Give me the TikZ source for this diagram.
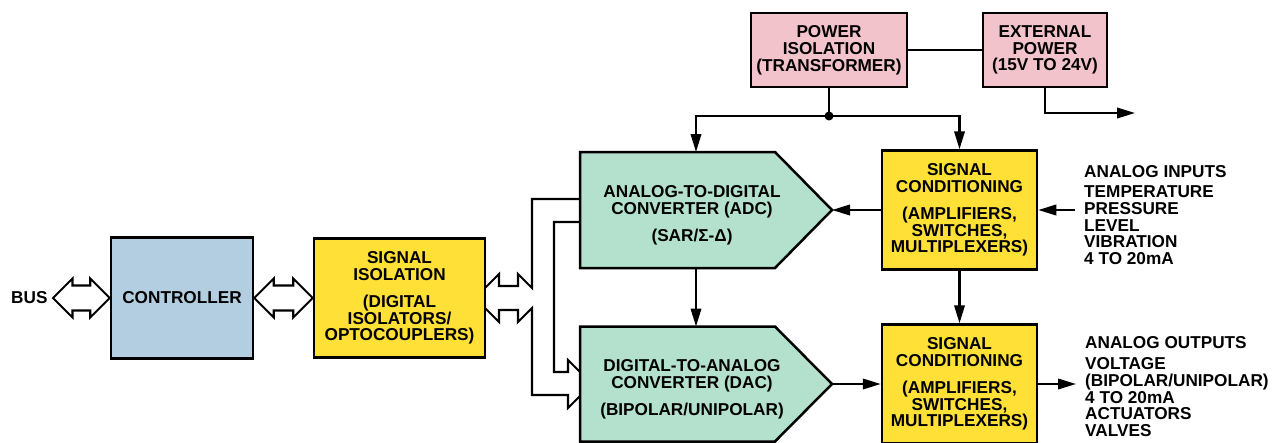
\documentclass[tikz,border=0pt]{standalone}
\usepackage{fontspec}
\setmainfont{Liberation Sans}
\usetikzlibrary{arrows.meta,calc,backgrounds}
\definecolor{ctrlblue}{HTML}{B3CEE1}
\definecolor{sigyellow}{HTML}{FFE036}
\definecolor{convgreen}{HTML}{B3E1CD}
\definecolor{pwrpink}{HTML}{F2C3CB}
\newcommand\fatdbl[2]{%
  \draw[fatarrow] let \p1=(#1), \p2=(#2) in
    (\x1,\y1) -- (\x1+19.5pt,\y1+19.5pt) -- (\x1+19.5pt,\y1+12.5pt)
    -- (\x2-19.5pt,\y1+12.5pt) -- (\x2-19.5pt,\y1+19.5pt) -- (\x2,\y1)
    -- (\x2-19.5pt,\y1-19.5pt) -- (\x2-19.5pt,\y1-12.5pt)
    -- (\x1+19.5pt,\y1-12.5pt) -- (\x1+19.5pt,\y1-19.5pt) -- cycle;}
\begin{document}
\begin{tikzpicture}[x=1pt,y=-1pt,
  lbl/.style={inner sep=0pt, font=\bfseries\fontsize{17.2}{16.8}\selectfont},
  box/.style={lbl, draw, line width=2.5pt, align=center},
  conv/.style={draw, line width=2.5pt, fill=convgreen, line join=miter},
  fatarrow/.style={draw, line width=2.1pt, fill=white, line join=miter},
  plain/.style={line width=2.1pt},
  conn/.style={line width=2.1pt, -{Triangle[length=18pt,width=10.5pt]}}]
\useasboundingbox (0,0) rectangle (1279,442);
% boxes
\node[box, fill=ctrlblue, minimum width=142pt, minimum height=121pt] (ctrl) at (182,298) {CONTROLLER};
\node[box, fill=sigyellow, minimum width=171pt, minimum height=119pt] (si) at (399.5,298)
  {SIGNAL\\ISOLATION\\[10pt](DIGITAL\\ISOLATORS/\\OPTOCOUPLERS)};
\node[box, fill=sigyellow, minimum width=155pt, minimum height=119pt] (sc1) at (959.5,210)
  {SIGNAL\\CONDITIONING\\[10pt](AMPLIFIERS,\\SWITCHES,\\MULTIPLEXERS)};
\node[box, fill=sigyellow, minimum width=155pt, minimum height=119pt] (sc2) at (959.5,384)
  {SIGNAL\\CONDITIONING\\[10pt](AMPLIFIERS,\\SWITCHES,\\MULTIPLEXERS)};
\node[box, fill=pwrpink, minimum width=156pt, minimum height=74pt] (pwr) at (829,50)
  {POWER\\ISOLATION\\(TRANSFORMER)};
\node[box, fill=pwrpink, minimum width=124pt, minimum height=74pt] (ext) at (1045,50)
  {EXTERNAL\\POWER\\(15V TO 24V)};
% converters
\draw[conv] (580,152) -- (775,152) -- (832,210) -- (775,268) -- (580,268) -- cycle;
\draw[conv] (580,326.5) -- (775,326.5) -- (832,384) -- (775,441.5) -- (580,441.5) -- cycle;
\coordinate (adctip) at (832,210);
\coordinate (adctop) at (696,152);
\coordinate (adcbot) at (696,268);
\coordinate (dactop) at (696,326.5);
\coordinate (dactip) at (832,384);
\node[lbl, align=center, anchor=north] (adctxt) at (692,185)
  {ANALOG-TO-DIGITAL\\CONVERTER (ADC)\\[11pt](SAR/Σ-Δ)};
\node[lbl, align=center, anchor=north] (dactxt) at (692,359)
  {DIGITAL-TO-ANALOG\\CONVERTER (DAC)\\[11pt](BIPOLAR/UNIPOLAR)};
% labels
\node[lbl, anchor=west] (buslbl) at (11,298) {BUS};
\node[lbl, align=left, anchor=north west] (aintxt) at (1084,165)
  {ANALOG INPUTS\\[3.5pt]TEMPERATURE\\PRESSURE\\LEVEL\\VIBRATION\\4 TO 20mA};
\node[lbl, align=left, anchor=north west] (aouttxt) at (1085,336)
  {ANALOG OUTPUTS\\[4.5pt]VOLTAGE\\(BIPOLAR/UNIPOLAR)\\4 TO 20mA\\ACTUATORS\\VALVES};
% fat bus arrows
\coordinate (busend) at (53,298);
\fatdbl{busend}{ctrl.west}
\fatdbl{ctrl.east}{si.west}
\begin{scope}[on background layer]
\draw[fatarrow] (475,298) -- (499,274) -- (499,286) -- (518,286) -- (518,274) -- (532,288)
  -- (532,199) -- (600,199) -- (600,222) -- (554,222) -- (554,372) -- (568,372) -- (568,360)
  -- (592,384) -- (568,408) -- (568,395) -- (532,395) -- (532,308) -- (518,322) -- (518,310)
  -- (499,310) -- (499,322) -- cycle;
\end{scope}
% power connections
\coordinate (junc) at (829,116);
\draw[plain] (pwr.south) -- (junc);
\draw[conn] (junc) -| (adctop);
\draw[conn] (junc) -| (sc1.north);
\fill (junc) circle (4.5pt);
\draw[plain] (pwr.east) -- (ext.west);
\coordinate (extout) at (1135,113);
\draw[conn] (ext.south) |- (extout);
% signal connections
\coordinate (ainp) at (1075,210);
\draw[conn] (ainp) -- (sc1.east);
\draw[conn] (sc1.west) -- (adctip);
\draw[conn] (adcbot) -- (dactop);
\draw[conn] (dactip) -- (sc2.west);
\draw[conn] (sc1.south) -- (sc2.north);
\coordinate (aoutp) at (1076,384);
\draw[conn] (sc2.east) -- (aoutp);
\end{tikzpicture}
\end{document}
